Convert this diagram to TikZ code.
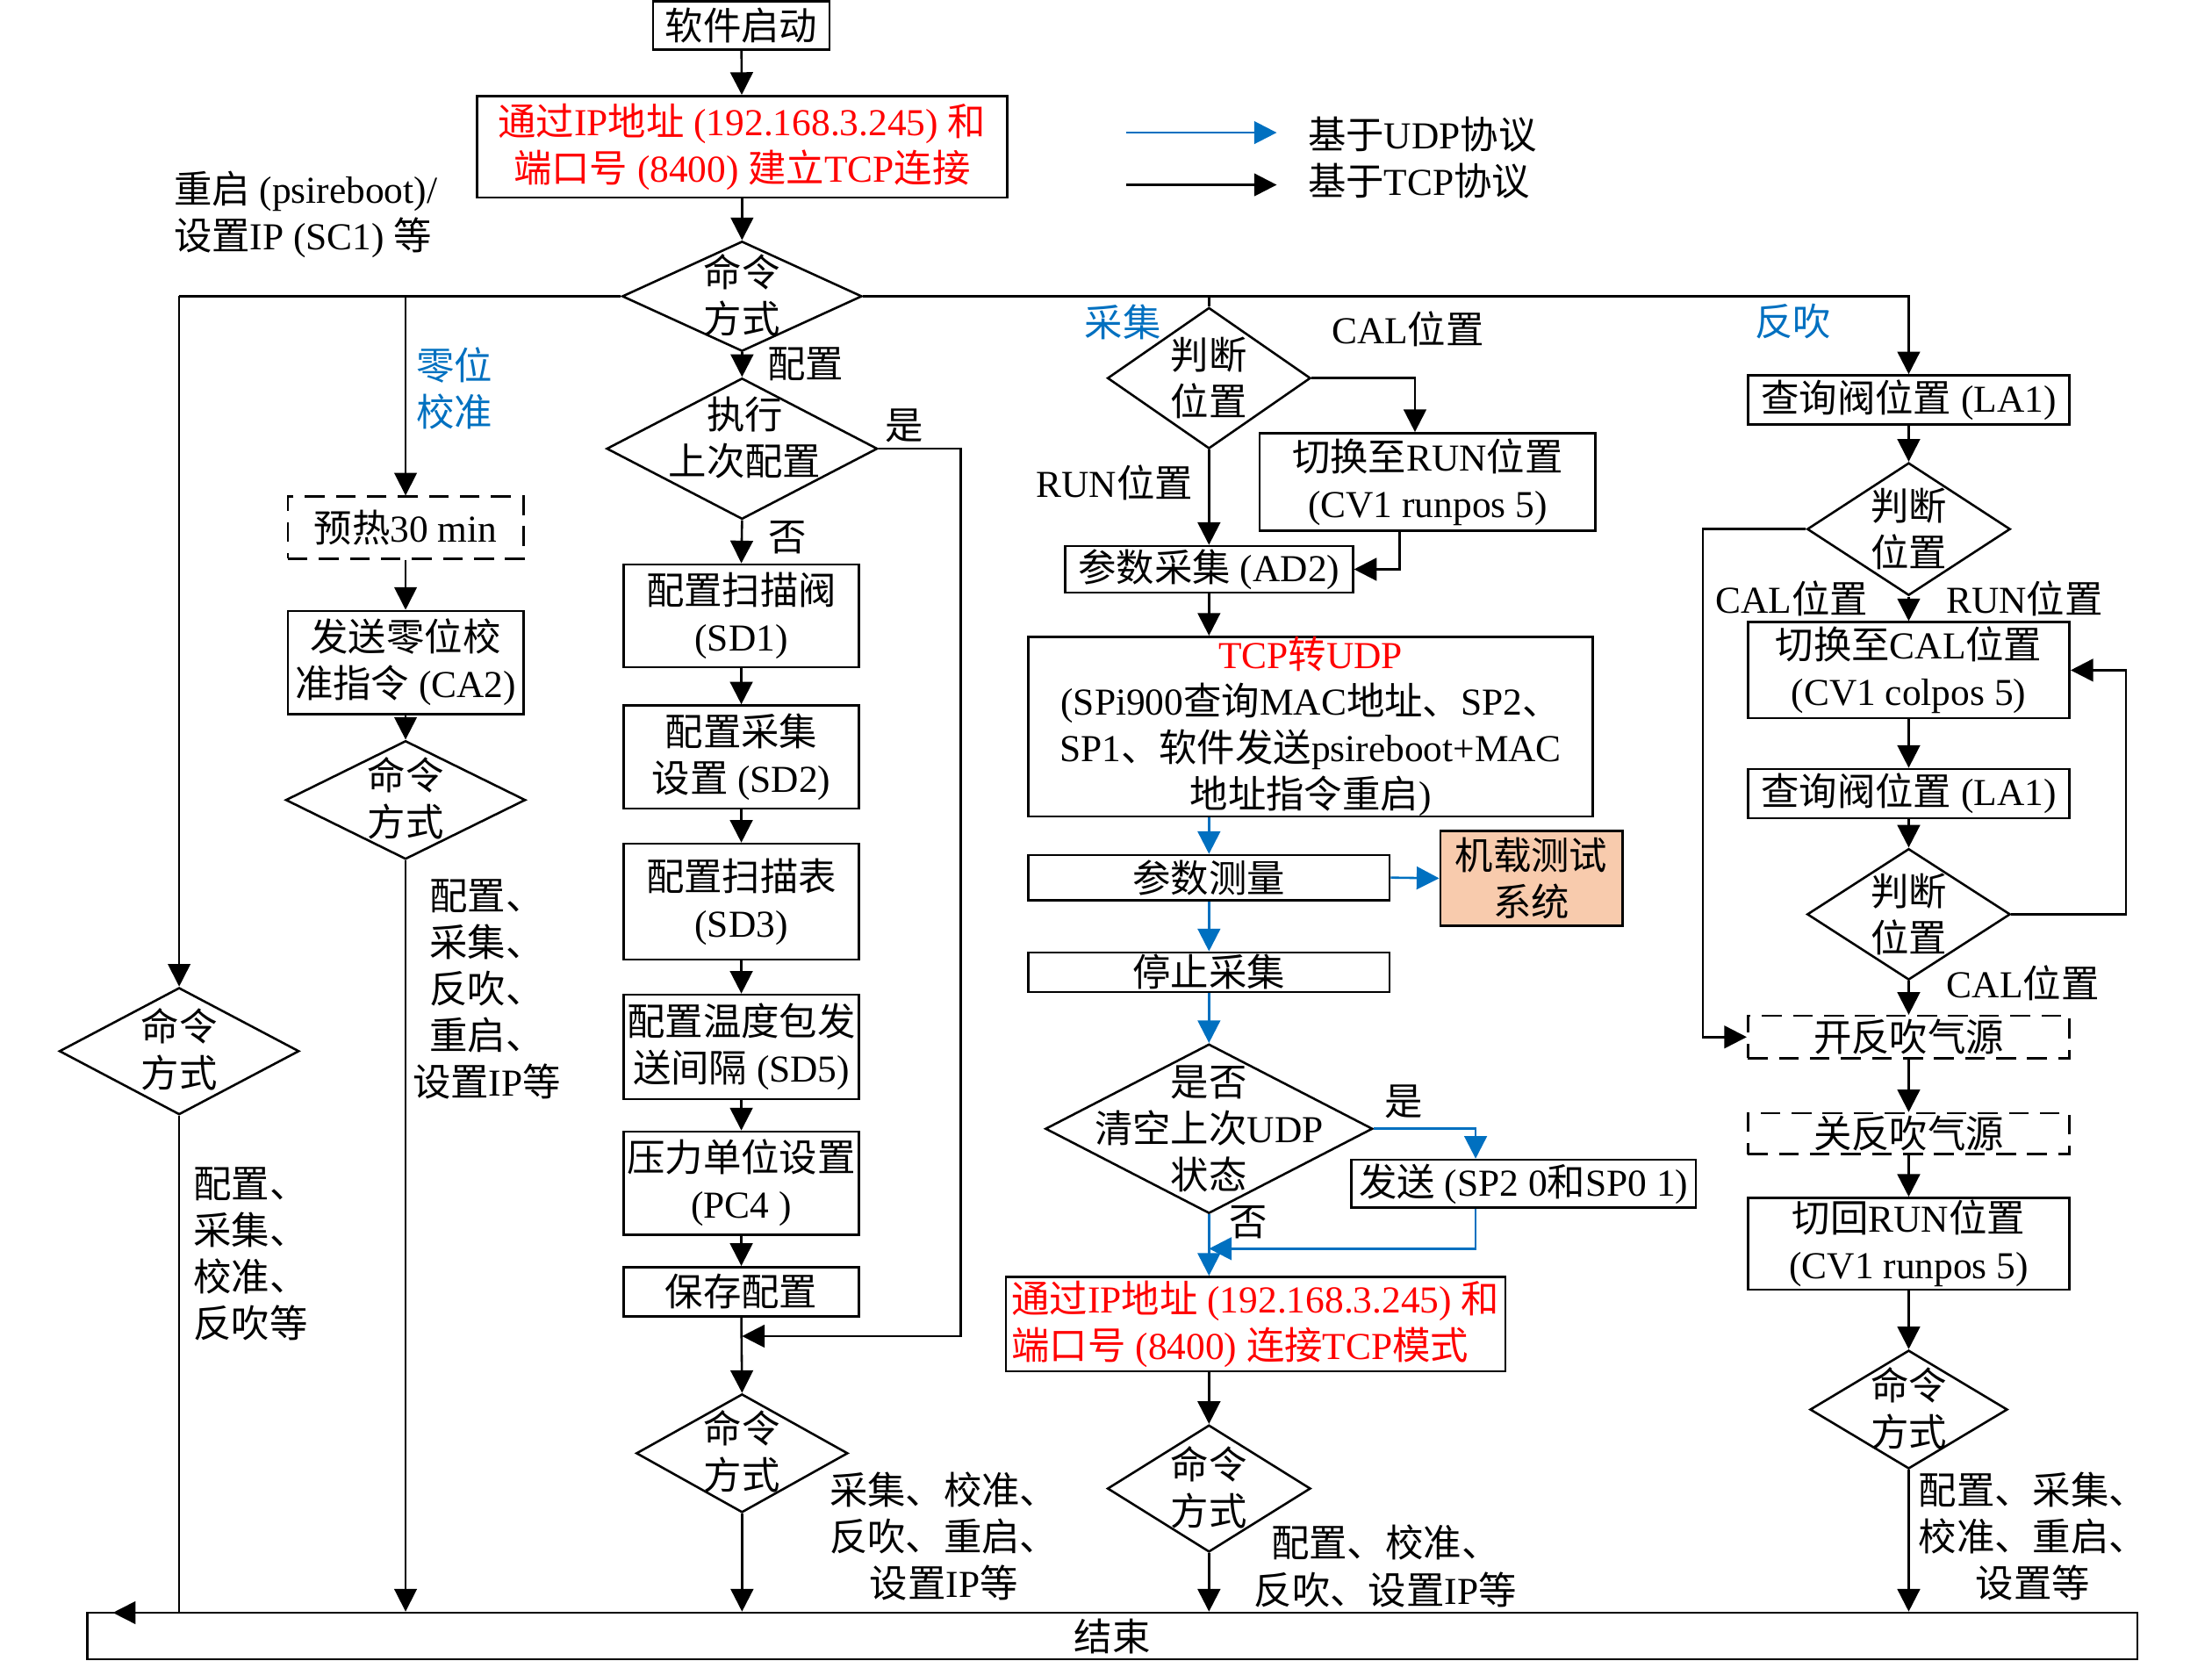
\documentclass[tikz,border=0pt]{standalone}
\usepackage{fontspec}
\setmainfont{Liberation Serif}
\newfontfamily\cjkf{Noto Sans CJK SC}
\usetikzlibrary{arrows.meta,shapes.geometric,calc}
\newXeTeXintercharclass\cjkcls
\newcount\mycnt
\mycnt="3000
\loop\XeTeXcharclass\mycnt=\cjkcls\advance\mycnt by 1\relax\ifnum\mycnt<"A000\repeat
\mycnt="FF00
\loop\XeTeXcharclass\mycnt=\cjkcls\advance\mycnt by 1\relax\ifnum\mycnt<"FFF0\repeat
\XeTeXinterchartoks 0 \cjkcls={\cjkf}
\XeTeXinterchartoks 4095 \cjkcls={\cjkf}
\XeTeXinterchartoks \cjkcls 0={\rmfamily}
\XeTeXinterchartoks \cjkcls 4095={\rmfamily}
\XeTeXinterchartokenstate=1
\definecolor{ublue}{RGB}{0,112,192}
\definecolor{ured}{RGB}{255,0,0}
\definecolor{uorange}{RGB}{248,203,173}
\newcommand\myfs{\fontsize{27}{33}\selectfont}
\begin{document}
\begin{tikzpicture}[x=1pt,y=-1pt,
  box/.style={draw,line width=1.6pt,inner sep=0pt,align=center,font=\myfs},
  dbox/.style={box,dash pattern=on 14pt off 8pt},
  dia/.style={draw,diamond,line width=1.6pt,inner sep=0pt},
  txt/.style={inner sep=0pt,align=center,font=\myfs},
  ln/.style={line width=1.6pt},
  arr/.style={line width=1.6pt,-{Triangle[length=16pt,width=16pt]}},
  tarr/.style={arr,line width=1.1pt},
  barr/.style={arr,draw=ublue,color=ublue}]
\useasboundingbox (0,0) rectangle (1568,1177);

% ---- top ----
\node[box,minimum width=125,minimum height=34] (start) at (525.5,18) {软件启动};
\node[box,minimum width=376,minimum height=72,text=ured] (ip1) at (526,104) {通过IP地址 (192.168.3.245) 和\\端口号 (8400) 建立TCP连接};
\node[txt,align=left,anchor=west] (rst) at (123,152) {重启 (psireboot)/\\设置IP (SC1) 等};

% legend
\coordinate (la1) at (798,94); \coordinate (la2) at (905,94);
\coordinate (lb1) at (798,131); \coordinate (lb2) at (905,131);
\draw[barr] (la1) -- (la2);
\draw[arr] (lb1) -- (lb2);
\node[txt,anchor=west] (lgu) at (927,95) {基于UDP协议};
\node[txt,anchor=west] (lgt) at (927,128) {基于TCP协议};

% main decision
\node[dia,minimum width=170,minimum height=78] (d1) at (526,210) {};
\node[txt] (d1t) at (526,209) {命令\\方式};

% ---- left column ----
\node[dia,minimum width=170,minimum height=90] (d0) at (127,745) {};
\node[txt] (d0t) at (127,744) {命令\\方式};
\node[txt,align=left,anchor=west] (d0l) at (137,889) {配置、\\采集、\\校准、\\反吹等};

% ---- zero calibration column ----
\node[txt,text=ublue] (zl) at (322,275) {零位\\校准};
\node[dbox,minimum width=167,minimum height=44] (pre) at (287.5,374) {预热30 min};
\node[box,minimum width=167,minimum height=73] (ca2) at (287.5,469.5) {发送零位校\\准指令 (CA2)};
\node[dia,minimum width=170,minimum height=84] (dzr) at (287.5,567) {};
\node[txt] (dzrt) at (287.5,566) {命令\\方式};
\node[txt] (dzrl) at (345,701) {配置、\\采集、\\反吹、\\重启、\\设置IP等};

% ---- config column ----
\node[txt] (cfgl) at (571,258) {配置};
\node[dia,minimum width=192,minimum height=100] (dz) at (526,318) {};
\node[txt] (dzt) at (528,310) {执行\\上次配置};
\node[txt] (yes1) at (641,302) {是};
\node[txt] (no1) at (558,381) {否};
\node[box,minimum width=167,minimum height=73] (sd1) at (525.5,436.5) {配置扫描阀\\(SD1)};
\node[box,minimum width=167,minimum height=73] (sd2) at (525.5,536.5) {配置采集\\设置 (SD2)};
\node[box,minimum width=167,minimum height=82] (sd3) at (525.5,639) {配置扫描表\\(SD3)};
\node[box,minimum width=167,minimum height=74] (sd5) at (525.5,742) {配置温度包发\\送间隔 (SD5)};
\node[box,minimum width=167,minimum height=73] (pc4) at (525.5,838.5) {压力单位设置\\(PC4 )};
\node[box,minimum width=167,minimum height=35] (save) at (525.5,915.5) {保存配置};
\coordinate (mg) at (526,947);
\coordinate (rc) at (681,947);
\node[dia,minimum width=150,minimum height=84] (d3) at (526,1030) {};
\node[txt] (d3t) at (526,1029) {命令\\方式};
\node[txt] (d3l) at (669,1089) {采集、校准、\\反吹、重启、\\设置IP等};

% ---- acquisition column ----
\node[txt,text=ublue] (acql) at (796,228) {采集};
\node[dia,minimum width=144,minimum height=100] (dj1) at (857,268) {};
\node[txt] (dj1t) at (857,268) {判断\\位置};
\node[txt] (call1) at (998,233) {CAL位置};
\node[txt] (runl1) at (790,342) {RUN位置};
\node[box,minimum width=238,minimum height=69] (sw1) at (1012,341.5) {切换至RUN位置\\(CV1 runpos 5)};
\node[box,minimum width=204,minimum height=33] (ad2) at (857,403.5) {参数采集 (AD2)};
\node[box,minimum width=400,minimum height=124] (tcp) at (929,515) {\textcolor{ured}{TCP转UDP}\\(SPi900查询MAC地址、SP2、\\SP1、软件发送psireboot+MAC\\地址指令重启)};
\node[box,minimum width=256,minimum height=32] (meas) at (857,622) {参数测量};
\node[box,minimum width=129,minimum height=67,fill=uorange] (air) at (1085.5,622.5) {机载测试\\系统};
\node[box,minimum width=256,minimum height=28] (stop) at (857,689) {停止采集};
\node[dia,minimum width=232,minimum height=120] (dq) at (857,800) {};
\node[txt] (dqt) at (857,800) {是否\\清空上次UDP\\状态};
\node[txt] (yes2) at (995,781) {是};
\node[txt] (no2) at (885,866) {否};
\node[box,minimum width=244,minimum height=34] (snd) at (1080,839) {发送 (SP2 0和SP0 1)};
\coordinate (mq) at (857,885);
\node[box,minimum width=354,minimum height=67,text=ured,align=left] (ip2) at (890,938.5) {通过IP地址 (192.168.3.245) 和\\端口号 (8400) 连接TCP模式};
\node[dia,minimum width=144,minimum height=90] (d4) at (857,1055) {};
\node[txt] (d4t) at (857,1054) {命令\\方式};
\node[txt] (d4l) at (982,1110) {配置、校准、\\反吹、设置IP等};

% ---- blowback column ----
\node[txt,text=ublue] (bbl) at (1271,228) {反吹};
\node[box,minimum width=228,minimum height=35] (lq1) at (1353,283.5) {查询阀位置 (LA1)};
\node[dia,minimum width=144,minimum height=94] (dj2) at (1353,375) {};
\node[txt] (dj2t) at (1353,375) {判断\\位置};
\node[txt] (call2) at (1270,424) {CAL位置};
\node[txt] (runl2) at (1435,424) {RUN位置};
\coordinate (lb) at (1207,375);
\node[box,minimum width=228,minimum height=68] (cal) at (1353,475) {切换至CAL位置\\(CV1 colpos 5)};
\node[box,minimum width=228,minimum height=35] (lq2) at (1353,562.5) {查询阀位置 (LA1)};
\node[dia,minimum width=144,minimum height=93] (dj3) at (1353,648) {};
\node[txt] (dj3t) at (1353,648) {判断\\位置};
\coordinate (rb) at (1507,648);
\node[txt] (call3) at (1434,697) {CAL位置};
\node[dbox,minimum width=228,minimum height=30] (open) at (1353,735) {开反吹气源};
\node[dbox,minimum width=228,minimum height=29] (close) at (1353,803.5) {关反吹气源};
\node[box,minimum width=228,minimum height=65] (back) at (1353,881.5) {切回RUN位置\\(CV1 runpos 5)};
\node[dia,minimum width=140,minimum height=84] (d5) at (1353,999) {};
\node[txt] (d5t) at (1353,998) {命令\\方式};
\node[txt] (d5l) at (1441,1089) {配置、采集、\\校准、重启、\\设置等};

% ---- end ----
\node[box,minimum width=1453,minimum height=33] (end) at (788.5,1159.5) {结束};
\coordinate (ea) at (80,1143);

% ---- connectors ----
\draw[arr] (start) -- (ip1);
\draw[arr] (ip1) -- (d1);
\draw[ln] (d1.west) -- (d1.west -| d0.north);
\draw[tarr] (d1.west -| d0.north) -- (d0.north);
\coordinate (jz) at (287.5,210);
\draw[tarr] (jz) -- (pre.north);
\draw[arr] (d1.east) -| (lq1.north);
\coordinate (jc) at (857,210);
\draw[ln] (jc) -- (dj1.north);
\draw[arr] (d1.south) -- (dz.north);
\draw[arr] (dz.south) -- (sd1.north);
\draw[arr] (sd1) -- (sd2);
\draw[arr] (sd2) -- (sd3);
\draw[arr] (sd3) -- (sd5);
\draw[arr] (sd5) -- (pc4);
\draw[arr] (pc4) -- (save);
\draw[arr] (dz.east) -| (rc) -- (mg);
\draw[arr] (save.south) -- (d3.north);
\draw[arr] (d3.south) -- (d3.south |- end.north);
\draw[tarr] (d0.south) |- (ea);
\draw[tarr] (pre) -- (ca2);
\draw[arr] (ca2) -- (dzr);
\draw[tarr] (dzr.south) -- (dzr.south |- end.north);

\draw[arr] (dj1.east) -| ($(sw1.north)+(-9,0)$);
\draw[arr] ($(sw1.south)+(-20,0)$) |- (ad2.east);
\draw[arr] (dj1.south) -- (ad2.north);
\draw[arr] (ad2) -- (ad2 |- tcp.north);
\draw[barr] (meas.north |- tcp.south) -- (meas.north);
\draw[barr] (meas.east) -- (air.west);
\draw[barr] (meas) -- (stop);
\draw[barr] (stop) -- (dq);
\draw[barr] (dq.east) -| ($(snd.north)+(-34,0)$);
\draw[barr] ($(snd.south)+(-34,0)$) |- (mq);
\draw[barr] (dq.south) -- (dq.south |- ip2.north);
\draw[arr] (d4.north |- ip2.south) -- (d4.north);
\draw[arr] (d4.south) -- (d4.south |- end.north);

\draw[arr] (lq1) -- (dj2);
\draw[arr] (dj2) -- (cal);
\draw[arr] (dj2.west) -- (lb) |- (open.west);
\draw[arr] (cal) -- (lq2);
\draw[arr] (lq2) -- (dj3);
\draw[arr] (dj3.east) -- (rb) |- (cal.east);
\draw[arr] (dj3) -- (open);
\draw[arr] (open) -- (close);
\draw[arr] (close) -- (back);
\draw[arr] (back) -- (d5);
\draw[arr] (d5.south) -- (d5.south |- end.north);
\end{tikzpicture}
\end{document}
